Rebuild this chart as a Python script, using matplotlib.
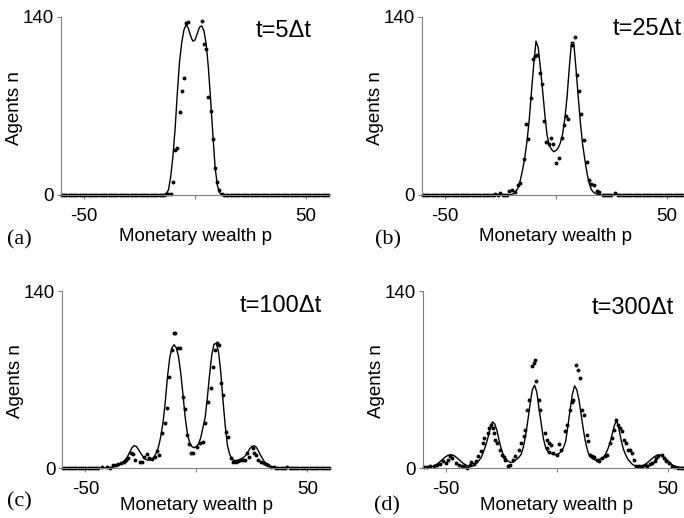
import matplotlib
matplotlib.use('Agg')
import matplotlib.pyplot as plt

# ---- data ----
# panel (a) t=5dt
a_line_start = -14
a_line_n = [0, 1, 4, 14, 30, 52, 80, 105, 120, 130, 134, 131, 125, 121, 122,
            127, 132, 133, 129, 119, 100, 75, 48, 22, 8, 2, 0]
a_dot_p = [-13, -12, -11, -10, -9, -8, -7, -6, -5, -4, -3,
           3, 4, 5, 6, 7, 8, 9, 10, 11, 12]
a_dot_n = [0.5, 1, 1, 10, 35, 37, 65, 82, 92, 135, 136,
           137, 119, 115, 77, 66, 44, 21, 10, 4, 1]
a_zero_p = list(range(-60, -13)) + list(range(13, 61))

# panel (b) t=25dt
b_line_start = -21
b_line_n = [0, 0.5, 1, 3, 6, 12, 20, 30, 43, 60, 82, 103, 121, 116, 100, 82,
            63, 47, 39, 36, 34, 35, 37, 41, 48, 60, 77, 100, 120, 120, 100, 78,
            57, 40, 28, 17, 9, 4, 2, 1, 0.5, 0]
b_dot_p = [-27.3, -25, -21, -20, -18.5, -17.3, -16, -14.6, -13.3, -12.4,
           -11.1, -10.3, -9.5, -8.7, -7.3, -6.4, -5.6, -4.3, -3.2, -2.3,
           -1.2, -0.2, 1.5, 2.6, 3.8, 4.4, 5.6, 8.6, 9.7, 10.5,
           11.5, 12.8, 13.9, 14.9, 16, 17.3, 18.4, 19.4, 26.6, 7.3]
b_dot_n = [0.5, 1.5, 3, 4, 2.5, 8, 9.5, 28, 56, 44,
           76, 107, 109, 110, 96, 87, 58, 42, 40, 44.5,
           40, 25, 29, 45, 55, 62, 60, 124.5, 94, 82,
           64, 43, 26, 11.5, 9, 7.5, 3.5, 2.5, 1.5, 118]
b_zero_p = list(range(-60, -27)) + [-26, -24, -23, -22] + list(range(21, 26)) + list(range(28, 61))

# panel (c) t=100dt
c_line_start = -40
c_line_n = [0, 0.3, 0.5, 1, 1.5, 2.5, 3.5, 5, 6.5, 9, 12.5, 16, 17.7, 17, 14.5,
            11.5, 9, 7, 6.3, 6.3, 7, 9, 12, 17, 25, 36, 52, 72, 87, 95, 97.5,
            95, 88, 75, 58, 40, 27, 20, 17, 16, 17, 19, 24, 32, 40, 56, 74, 90,
            98, 98.5, 92, 76, 54, 34, 18, 11, 7, 6, 6, 6.3, 7, 8, 9.5, 12, 15,
            17, 17.7, 16.5, 13.5, 10, 7, 4, 2.5, 1.5, 0.8, 0.3, 0]
c_dot_p = [-44.5, -42.3, -40.3, -38.8, -37.4, -36.3, -35.1, -34.1, -32.6, -31.5,
           -30.7, -29.6, -28.4, -27.4, -25.4, -24.4, -23.6, -22.4, -21.4, -19.9,
           -18.7, -17.7, -16.6, -15.5, -14.3, -13.2, -12.2, -11, -10.2, -9.6,
           -8.4, -7.3, -6.1, -5.1, -4.3, -3.3, -2.3, -1.3, 0.2, 1.6,
           2.8, 3.9, 5.4, 6.5, 7.6, 8.3, 9.1, 10.1, 11.3, 12,
           13.5, 14.3, 15.5, 16.5, 17.7, 18.8, 19.9, 21, 22, 22.9,
           23.9, 25.5, 26.2, 26.9, 28, 29.2, 30.4, 31.4, 32.4, 33.6,
           34.8, 41]
c_dot_n = [0, 0.8, 0.8, 0, 2.4, 2.4, 3.2, 4.2, 5, 6.3,
           7.6, 11.6, 11, 6.3, 5, 5, 8.9, 11, 7.6, 6.8,
           8.4, 13.7, 10.3, 27.4, 35.3, 47.2, 71.7, 93.3, 106.5, 106.5,
           95, 95, 56.2, 47, 26, 18.6, 11.6, 11.6, 16.9, 20,
           20.8, 35.3, 52.5, 63, 80, 93.3, 98.6, 97.3, 67, 57.8,
           28.7, 24.8, 7.6, 5, 5, 5.5, 6.3, 6.3, 6.3, 11.6,
           8.9, 15.5, 11.6, 10.3, 6.3, 5, 3.7, 2.9, 2.1, 1,
           1, 0.5]
c_zero_p = list(range(-60, -44)) + list(range(36, 41)) + list(range(42, 61))

# panel (d) t=300dt
d_line_start = -60
d_line_n = [0, 0.2, 0.5, 0.8, 1.2, 2, 3, 4.5, 6, 7.5, 9, 10, 10.5, 10.3, 9.5,
            8, 6.5, 5, 3.5, 2.5, 1.5, 1.2, 1.5, 2.5, 4, 6, 8.5, 13, 18, 24,
            31, 36.5, 35, 30, 22, 15, 10, 7.5, 5.5, 4.5, 4.5, 5.5, 7, 8.5, 11,
            17, 26, 38, 51, 62, 65.5, 60, 47, 35, 23, 16, 13, 12, 11, 10.5,
            10.7, 11.5, 13, 16, 21, 33, 46, 58, 65, 62, 54, 42, 30, 20, 13,
            9, 7.5, 6.5, 6.3, 6.7, 7.5, 8.5, 11, 15, 20, 27, 34, 37.5, 31, 22,
            15, 10.5, 7, 5, 3, 2, 1.3, 1, 1.2, 2, 3, 4.5, 6, 7.5, 9,
            10, 10.5, 10, 9, 7.5, 6, 4, 2.5, 1.5, 1, 0.7, 0.5, 0.3, 0.2, 0.1, 0]
d_dot_p = [-59.9, -58.4, -56.9, -55.4, -53.9, -52.4, -51.3, -50.1, -48.9, -47.9,
           -47.1, -45.2, -44.1, -42.9, -41.8, -40.3, -39.3, -38.6, -37.4, -36.3,
           -35.4, -34.3, -33.4, -32.7, -31.1, -30.4, -29.6, -28.8, -28.4, -27.8,
           -26.9, -25.4, -24.7, -23.9, -23.2, -22, -20.9, -19.7, -18.7, -17.2,
           -16, -14.9, -14.2, -13.4, -12.7, -11.2, -10.4, -9.7, -9.2, -8.2,
           -7.4, -5.5, -4.5, -4.2, -3.7, -2.7, -3.3, -1.5, 0, 0.8,
           1.8, 3.8, 4.8, 6, 6.8, 7.5, 8.5, 9.4, 10.5, 11.2,
           12.3, 13.5, 14.2, 15, 15.7, 16.8, 17.9, 19.2, 20.2, 21.7,
           22.8, 23.9, 24.7, 25.9, 26.7, 27.7, 28.4, 29.5, 30.4, 31.4,
           32.2, 32.9, 33.7, 34.7, 35.9, 37.1, 38.2, 39.7, 40.7, 41.9,
           43.1, 44.2, 44.9, 45.7, 47.2, 48.2, 49.4, 50.6, 51.7, 53.1,
           54.6, 55.9]
d_dot_n = [0.5, 0.5, 1.2, 1.8, 2.6, 3.4, 5.2, 4, 6.6, 9.2,
           7.9, 4, 2.6, 1.3, 1.8, 0, 2.6, 4.5, 3.4, 5.2,
           9.2, 13.1, 19.7, 23.7, 27.6, 31.6, 34.2, 31.6, 27.6, 22.4,
           19.7, 14.5, 10.5, 8.6, 6, 1.8, 2.6, 6.6, 9.2, 14.5,
           19.7, 25, 30.3, 46.1, 54, 80.4, 83, 85.7, 68.6, 54,
           46, 27.6, 22.4, 15.8, 19.7, 18.4, 12.4, 11.8, 10.5, 19,
           14.5, 29, 34.2, 46, 52.6, 54, 81.7, 77.3, 71, 46,
           42, 26.3, 21, 10.5, 9.2, 8.6, 6, 5.2, 7.9, 9.2,
           10.5, 19.7, 23.7, 30.3, 37.6, 34.2, 31.6, 29, 22.4, 19.7,
           14.5, 14.5, 11.8, 6.6, 1.8, 1.3, 1.3, 2.6, 1.8, 3.4,
           4, 5.2, 7.9, 9.2, 10.5, 7.9, 5.2, 4, 1.8, 0.8,
           0, 0]
d_zero_p = [57, 58, 59, 60]

panels = [
    ('(a)', 't=5\u0394t', a_line_start, a_line_n, a_dot_p, a_dot_n, a_zero_p),
    ('(b)', 't=25\u0394t', b_line_start, b_line_n, b_dot_p, b_dot_n, b_zero_p),
    ('(c)', 't=100\u0394t', c_line_start, c_line_n, c_dot_p, c_dot_n, c_zero_p),
    ('(d)', 't=300\u0394t', d_line_start, d_line_n, d_dot_p, d_dot_n, d_zero_p),
]

# ---- layout (pixels of the 684x518 reference) ----
W, H = 684, 518
rects = [[0.0892, 0.6236, 0.392, 0.3436],
         [0.6168, 0.6236, 0.392, 0.3436],
         [0.091, 0.0965, 0.392, 0.3417],
         [0.618, 0.0965, 0.392, 0.3417]]
xlabel_y = [-0.185, -0.185, -0.164, -0.164]
tag_pos = [(7, 244), (375, 244), (7, 506), (374, 510)]
time_pos = [(312, 37), (682, 35), (322, 312), (674, 314)]

plt.rcParams['font.family'] = ['Liberation Sans', 'DejaVu Sans']
grey = '#808080'

fig = plt.figure(figsize=(W / 100, H / 100), dpi=100)

for i, (tag, tlabel, start, line_n, dot_p, dot_n, zero_p) in enumerate(panels):
    ax = fig.add_axes(rects[i])
    line_p = list(range(start, start + len(line_n)))
    # flat zero stretches out to the axis ends
    ax.plot([-60.4] + line_p + [60.4], [0] + line_n + [0], color='black', lw=1.0)
    ax.plot(dot_p, dot_n, 'o', color='black', ms=2.8, mec='none', clip_on=False)
    ax.plot(zero_p, [0] * len(zero_p), 'o', color='black', ms=2.8, mec='none', clip_on=False)

    ax.set_xlim(-60.4, 60.4)
    ax.set_ylim(0, 140)
    ax.set_xticks([-50, 0, 50])
    ax.set_xticklabels(['-50', '', '50'])
    ax.set_yticks([0, 140])
    for s in ['top', 'right']:
        ax.spines[s].set_visible(False)
    for s in ['left', 'bottom']:
        ax.spines[s].set_color(grey)
        ax.spines[s].set_linewidth(0.8)
    ax.tick_params(direction='out', length=3, width=0.8, color=grey, labelsize=13.5)
    ax.tick_params(axis='x', pad=6.5)
    ax.tick_params(axis='y', pad=2)

    ax.set_xlabel('Monetary wealth p', fontsize=13.5)
    ax.xaxis.set_label_coords(0.5, xlabel_y[i])
    ax.set_ylabel('Agents n', fontsize=13.5)
    ax.yaxis.set_label_coords(-0.142, 0.49)

    tx, ty = time_pos[i]
    fig.text(tx / W, 1 - ty / H, tlabel, fontsize=17, ha='right', va='baseline')
    gx, gy = tag_pos[i]
    fig.text(gx / W, 1 - gy / H, tag, fontsize=16, ha='left', va='baseline',
             family='Liberation Serif')

fig.savefig('out.png', dpi=100)
